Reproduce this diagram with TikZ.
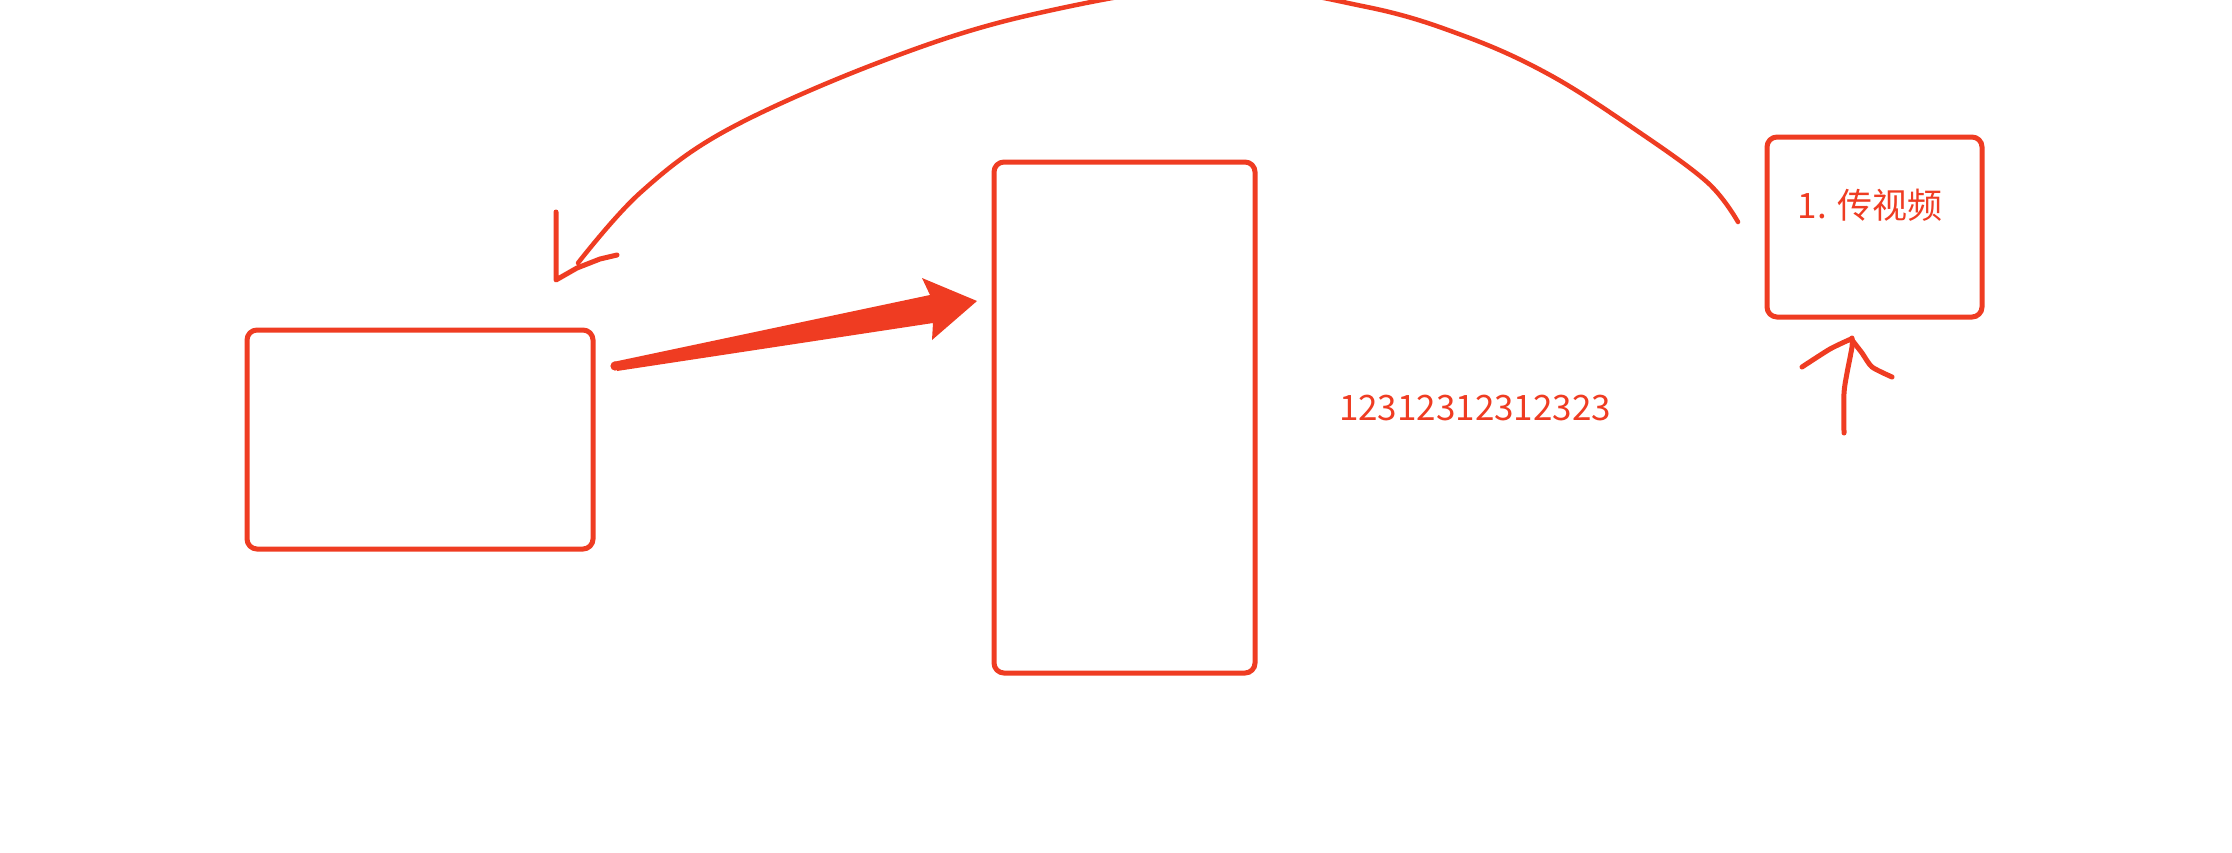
\documentclass[tikz,border=0pt]{standalone}
\usepackage{fontspec}
\setmainfont{Noto Sans CJK SC}
\definecolor{ink}{RGB}{239,60,34}
\begin{document}
\begin{tikzpicture}[x=1pt,y=-1pt,
  box/.style={draw=ink, line width=5pt, rounded corners=10pt, inner sep=0pt},
  hand/.style={draw=ink, line width=5pt, line cap=round, line join=round},
  thinhand/.style={draw=ink, line width=4.5pt, line cap=round, line join=round},
  lbl/.style={text=ink, font=\fontsize{35}{40}\selectfont, inner sep=0pt}]
\clip (0,0) rectangle (2232,852);
\fill[white] (0,0) rectangle (2232,852);
% boxes
\node[box, minimum width=346pt, minimum height=219pt] (left) at (420,439.5) {};
\node[box, minimum width=261pt, minimum height=511pt] (mid) at (1124.5,417.5) {};
\node[box, minimum width=215pt, minimum height=180pt] (right) at (1874.5,227) {};
% texts
\node[lbl] (t1) at (1870,205) {1. 传视频};
\node[lbl] (num) at (1475,408) {12312312312323};
% big arrow from left box to middle box
\coordinate (tail) at (615,366);
\coordinate (tip) at (977,301);
\fill[ink, line join=round] (613,362) -- (930,295) -- (922,278) -- (tip) -- (932,340) -- (933,323) -- (617,371) -- cycle;
\fill[ink] (tail) circle (4.6pt);
% hand-drawn curve from right box to left box (leaves top of picture)
\coordinate (cstart) at (1738,222);
\coordinate (cend) at (578,263);
\draw[thinhand] plot[smooth, tension=0.6] coordinates {
  (cstart) (1707,182) (1633,128) (1550,75) (1467,37) (1367,7)
  (1215,-14) (1030,15) (880,62) (727,130) (640,193) (cend)};
% hand-drawn arrowhead near left box
\draw[hand] (556,212) -- (556,280) -- (577,268) -- (600,259) -- (617,255);
% hand-drawn arrow under right box
\draw[hand] plot[smooth, tension=0.4] coordinates {(1844,433) (1844,393) (1847,373) (1852,347) (1852,338)};
\draw[hand] plot[smooth, tension=0.4] coordinates {(1802,367) (1830,349) (1851,339)};
\draw[hand] plot[smooth, tension=0.4] coordinates {(1852,340) (1862,353) (1872,367) (1892,377)};
\end{tikzpicture}
\end{document}
